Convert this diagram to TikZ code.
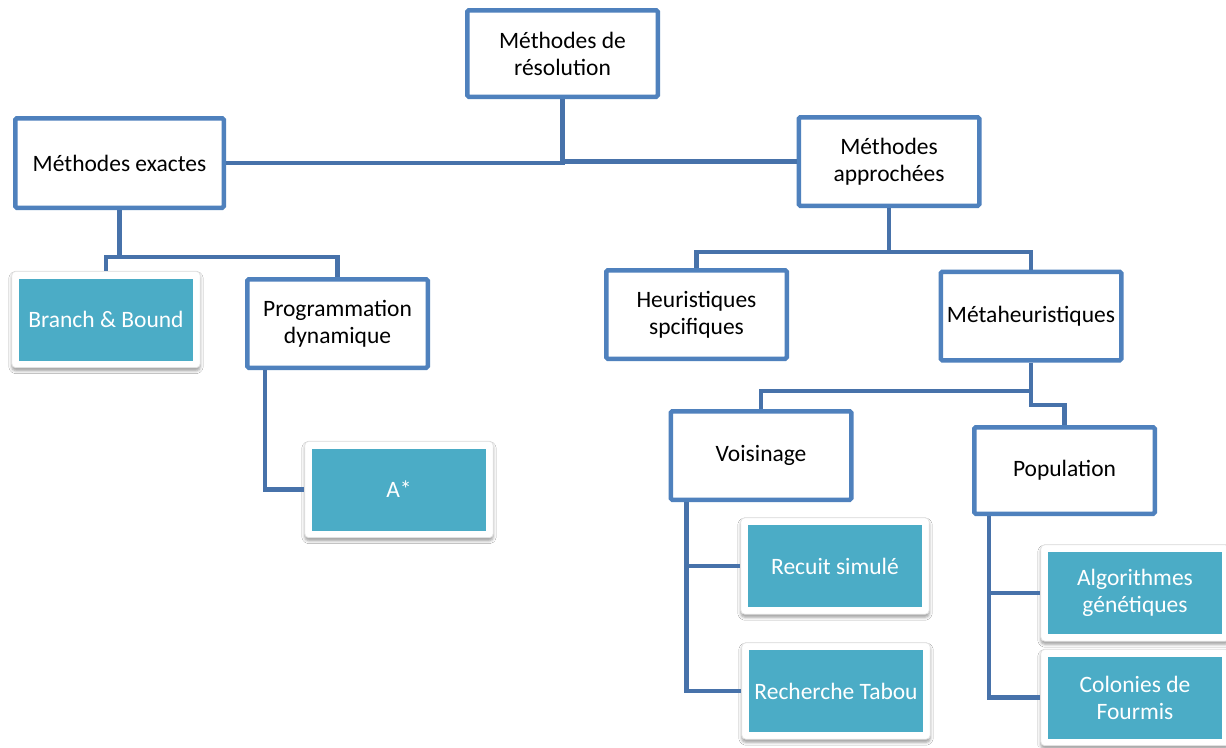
\documentclass[tikz,border=0pt]{standalone}
\usepackage{fontspec}
\setmainfont{Carlito}
\usetikzlibrary{fit,backgrounds,shadows.blur}
\definecolor{boxblue}{HTML}{4F81BD}
\definecolor{linkblue}{HTML}{4772AA}
\definecolor{leafteal}{HTML}{4BACC6}
\definecolor{cardedge}{HTML}{E4E4E4}
\begin{document}
\begin{tikzpicture}[x=1pt,y=-1pt,
  every node/.style={font=\fontsize{23.5}{27}\selectfont, align=center},
  catbox/.style={draw=boxblue, line width=4.5pt, fill=white, rounded corners=1.5pt,
    minimum width=180.5pt, minimum height=88.5pt, inner sep=2pt},
  leaf/.style={fill=leafteal, text=white, minimum width=174pt, minimum height=82pt, inner sep=0pt},
  card/.style={fill=white, draw=cardedge, line width=0.8pt, rounded corners=4pt, inner sep=7pt,
    blur shadow={shadow xshift=0pt, shadow yshift=-3pt, shadow blur radius=3pt, shadow opacity=40}},
  link/.style={draw=linkblue, line width=4.5pt}]

\useasboundingbox (0,0) rectangle (1226,747);

% category boxes
\node[catbox, minimum width=190.5pt, minimum height=86.5pt] (res) at (562.5,53.5) {Méthodes de\\résolution};
\node[catbox, minimum width=208.5pt, minimum height=89.5pt] (exa) at (119.5,163) {Méthodes exactes};
\node[catbox] (app) at (889,161.5) {Méthodes\\approchées};
\node[catbox] (prog) at (337.5,323.5) {Programmation\\dynamique};
\node[catbox] (heu) at (696.5,314.5) {Heuristiques\\spcifiques};
\node[catbox] (meta) at (1031,316) {Métaheuristiques};
\node[catbox] (vois) at (761,455.5) {Voisinage};
\node[catbox, minimum height=86.5pt] (pop) at (1064.5,470.5) {Population};

% leaf methods
\node[leaf] (bb) at (106,319.5) {Branch \& Bound};
\node[leaf] (astar) at (399,489.5) {A*};
\node[leaf] (rec) at (835,566) {Recuit simulé};
\node[leaf] (tab) at (836,691) {Recherche Tabou};
\node[leaf] (alg) at (1135,593) {Algorithmes\\génétiques};
\node[leaf] (col) at (1135,697.5) {Colonies de\\Fourmis};

% page background and white cards behind the leaves
\begin{scope}[on background layer]
  \fill[white] (0,0) rectangle (1226,747);
  \node[card, fit=(bb)] (bbcard) {};
  \node[card, fit=(astar)] (astarcard) {};
  \node[card, fit=(rec)] (reccard) {};
  \node[card, fit=(tab)] (tabcard) {};
  \node[card, fit=(alg)] (algcard) {};
  \node[card, fit=(col)] (colcard) {};
\end{scope}

% connectors
\draw[link] (exa.east) -| (res.south);
\draw[link] (app.west) -| (res.south);

\coordinate (j1) at (119.5,257);
\draw[link] (exa.south) -- (j1) -| (prog.north);
\draw[link] (j1) -| (bbcard.north);
\draw[link] ([xshift=20pt]prog.south west) |- (astarcard.west);

\coordinate (j2) at (889,252);
\draw[link] (app.south) -- (j2) -| (heu.north);
\draw[link] (j2) -| (meta.north);

\coordinate (j3) at (1031,391);
\coordinate (j4) at (1031,405);
\draw[link] (meta.south) -- (j3) -| (vois.north);
\draw[link] (j3) -- (j4) -| (pop.north);

\draw[link] ([xshift=18pt]vois.south west) |- (reccard.west);
\draw[link] ([xshift=18pt]vois.south west) |- (tabcard.west);
\draw[link] ([xshift=17pt]pop.south west) |- (algcard.west);
\draw[link] ([xshift=17pt]pop.south west) |- (colcard.west);
\end{tikzpicture}
\end{document}
